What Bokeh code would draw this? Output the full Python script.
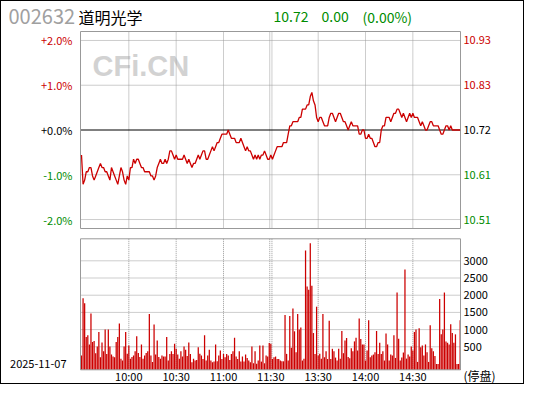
from bokeh.plotting import figure
from bokeh.models import Range1d, ColumnDataSource
from bokeh.layouts import column
from bokeh.core.properties import value
from bokeh.embed import file_html
from bokeh.resources import INLINE

# ---------------- data ----------------
stock_code = "002632"
stock_name = "道明光学"
base_price = 10.72
last_text = ["10.72", "0.00", "(0.00%)"]
trade_date = "2025-11-07"
status_text = "(停盘)"

price = [
    10.66, 10.59, 10.60, 10.62, 10.62, 10.63, 10.63, 10.61, 10.60, 10.61,
    10.62, 10.63, 10.64, 10.63, 10.63, 10.62, 10.62, 10.61, 10.60, 10.63,
    10.62, 10.61, 10.60, 10.59, 10.61, 10.63, 10.62, 10.60, 10.59, 10.61,
    10.60, 10.63, 10.63, 10.65, 10.64, 10.65, 10.65, 10.64, 10.63, 10.63,
    10.62, 10.62, 10.62, 10.62, 10.61, 10.61, 10.60, 10.61, 10.63, 10.64,
    10.65, 10.64, 10.64, 10.65, 10.64, 10.65, 10.67, 10.67, 10.66, 10.65,
    10.66, 10.65, 10.65, 10.65, 10.65, 10.66, 10.65, 10.64, 10.65, 10.64,
    10.63, 10.64, 10.64, 10.65, 10.66, 10.65, 10.66, 10.67, 10.67, 10.65,
    10.65, 10.66, 10.67, 10.68, 10.67, 10.68, 10.69, 10.69, 10.70, 10.71,
    10.71, 10.71, 10.71, 10.72, 10.71, 10.70, 10.70, 10.70, 10.69, 10.69,
    10.69, 10.70, 10.69, 10.68, 10.67, 10.68, 10.67, 10.67, 10.66, 10.65,
    10.66, 10.65, 10.66, 10.65, 10.66, 10.66, 10.67, 10.66, 10.65, 10.65,
    10.66,
    10.65, 10.66, 10.67, 10.68, 10.68, 10.68, 10.68, 10.69, 10.69, 10.69,
    10.71, 10.73, 10.73, 10.74, 10.74, 10.74, 10.74, 10.75, 10.75, 10.77,
    10.77, 10.77, 10.78, 10.78, 10.80, 10.81, 10.79, 10.78, 10.75, 10.74,
    10.75, 10.75, 10.74, 10.73, 10.73, 10.73, 10.75, 10.76, 10.76, 10.75,
    10.74, 10.75, 10.76, 10.76, 10.75, 10.74, 10.74, 10.73, 10.72, 10.73,
    10.74, 10.73, 10.73, 10.73, 10.73, 10.71, 10.71, 10.72, 10.72, 10.70,
    10.70, 10.71, 10.70, 10.70, 10.69, 10.68, 10.68, 10.69, 10.69, 10.72,
    10.73, 10.73, 10.75, 10.75, 10.75, 10.74, 10.75, 10.76, 10.76, 10.77,
    10.77, 10.76, 10.75, 10.76, 10.75, 10.74, 10.75, 10.76, 10.75, 10.76,
    10.75, 10.75, 10.75, 10.74, 10.73, 10.74, 10.73, 10.72, 10.72, 10.73,
    10.74, 10.74, 10.73, 10.73, 10.73, 10.73, 10.72, 10.71, 10.71, 10.72,
    10.73, 10.73, 10.72, 10.73, 10.72, 10.72, 10.72, 10.72, 10.72, 10.72,
]

volume = [
    245, 1911, 1764, 784, 833, 568, 1470, 637, 666, 313,
    510, 931, 196, 627, 372, 1000, 294, 1000, 510, 274,
    216, 196, 637, 784, 1176, 150, 100, 510, 931, 300,
    539, 150, 200, 250, 370, 804, 320, 200, 568, 150,
    250, 320, 370, 1450, 250, 60, 1147, 274, 686, 200,
    150, 250, 216, 216, 784, 100, 294, 372, 294, 588,
    441, 274, 150, 372, 216, 510, 411, 235, 627, 294,
    50, 150, 100, 118, 490, 300, 245, 147, 833, 98,
    245, 411, 98, 50, 69, 568, 78, 245, 392, 147,
    294, 196, 294, 245, 118, 294, 372, 764, 216, 147,
    372, 69, 216, 69, 274, 176, 98, 50, 510, 20,
    372, 10, 98, 539, 69, 539, 20, 245, 216, 608,
    588,
    147, 196, 216, 147, 147, 98, 78, 78, 1421, 294,
    98, 1392, 470, 1617, 950, 343, 1450, 1000, 1058, 100,
    150, 3300, 2254, 2156, 3508, 2274, 900, 294, 1666, 245,
    300, 150, 1450, 196, 372, 147, 1254, 147, 441, 372,
    186, 100, 441, 150, 960, 314, 686, 755, 200, 167,
    461, 372, 657, 764, 392, 1323, 725, 568, 568, 100,
    392, 1274, 196, 245, 274, 343, 960, 294, 617, 294,
    372, 100, 890, 568, 98, 274, 245, 833, 176, 2078,
    735, 100, 186, 333, 2744, 157, 274, 216, 510, 392,
    931, 1000, 60, 1039, 490, 539, 245, 568, 343, 60,
    1127, 461, 372, 235, 0, 0, 1891, 862, 1000, 2078,
    657, 617, 568, 1157, 902, 617, 862, 0, 0, 1274,
]

minute_idx = list(range(len(price)))

time_ticks = [30, 60, 90, 120, 150, 180, 210]
time_labels = ["10:00", "10:30", "11:00", "11:30", "13:30", "14:00", "14:30"]
grid_minutes = [30, 60, 90, 119.3, 120.7, 150, 180, 210]
pct_levels = [2, 1, 0, -1, -2]
pct_labels = ["+2.0%", "+1.0%", "+0.0%", "-1.0%", "-2.0%"]
price_labels = ["10.93", "10.83", "10.72", "10.61", "10.51"]
vol_ticks = [500, 1000, 1500, 2000, 2500, 3000]
vol_labels = ["500", "1000", "1500", "2000", "2500", "3000"]

# ---------------- styles / geometry ----------------
RED = "#cc0000"
GREEN = "#008c00"
GRID = "#9a9a9a"
FRAME = "#999999"
FONT = "Noto Sans CJK SC"

X0, X1 = -0.63, 240.2                         # minute range of the panels
PXMIN = 380.0 / (X1 - X0)                     # px per minute
Y1LO, Y1HI = base_price * 0.978, base_price * 1.022
V_LO, V_HI = -169, 3640


def xd(rx):            # page x -> minute units
    return X0 + (rx - 80) / PXMIN


def yd1(ry):           # page y -> price units
    return Y1HI - (ry - 31) * (Y1HI - Y1LO) / 197.0


def yd2(ry):           # page y -> volume units
    return V_HI - (ry - 238.3) * (V_HI - V_LO) / 131.0


def base_fig(h, y0, y1):
    f = figure(width=522, height=h, output_backend="svg", toolbar_location=None,
               x_range=Range1d(xd(1), xd(523)), y_range=Range1d(y0, y1),
               min_border=0, x_axis_location=None, y_axis_location=None)
    f.outline_line_color = None
    f.xgrid.visible = False
    f.ygrid.visible = False
    return f


# ---------------- price panel ----------------
p1 = base_fig(233, yd1(234), yd1(1))

p1.text(x=[xd(92)], y=[yd1(65)], text=["CFi.CN"], text_font=value("Liberation Sans"),
        text_font_style="bold", text_font_size="29px", text_color="#d2d2d2",
        text_baseline="middle")

pct_prices = [base_price * (1 + k / 100) for k in pct_levels]
grid_prices = [v for k, v in zip(pct_levels, pct_prices) if k != 0]
p1.segment(x0=grid_minutes, y0=Y1LO, x1=grid_minutes, y1=Y1HI,
           line_color=GRID, line_dash="1 1", line_width=1)
p1.segment(x0=X0, y0=grid_prices, x1=X1, y1=grid_prices,
           line_color=GRID, line_dash="1 1", line_width=1)
p1.segment(x0=[X0], y0=[base_price], x1=[X1], y1=[base_price], line_color="black", line_width=1)
p1.quad(left=[X0], right=[X1], bottom=[Y1LO], top=[Y1HI], fill_color=None, line_color=FRAME)

p1.line(minute_idx, price, line_color=RED, line_width=1.3)

label_colors = [RED if k > 0 else (GREEN if k < 0 else "black") for k in pct_levels]
lsrc = ColumnDataSource(dict(y=pct_prices, l=pct_labels, r=price_labels, c=label_colors))
p1.text(x=xd(72), y="y", text="l", text_color="c", source=lsrc, text_align="right",
        text_baseline="middle", text_font=value(FONT), text_font_size="11px")
p1.text(x=xd(463), y="y", text="r", text_color="c", source=lsrc, text_align="left",
        text_baseline="middle", text_font=value(FONT), text_font_size="11px")

p1.text(x=[xd(8)], y=[yd1(16)], text=[stock_code], text_baseline="middle",
        text_font=value(FONT), text_font_size="20px", text_color="#a0a0a0")
p1.text(x=[xd(78)], y=[yd1(16)], text=[stock_name], text_baseline="middle",
        text_font=value(FONT), text_font_size="16px", text_color="black")
p1.text(x=[xd(273), xd(321), xd(362)], y=[yd1(16)] * 3, text=last_text,
        text_baseline="middle", text_font=value(FONT), text_font_size="14px",
        text_color=GREEN)

# ---------------- volume panel ----------------
p2 = base_fig(149, yd2(383), yd2(234))
p2.x_range = p1.x_range

p2.segment(x0=grid_minutes, y0=V_LO, x1=grid_minutes, y1=V_HI,
           line_color=GRID, line_dash="1 1", line_width=1)
p2.segment(x0=X0, y0=vol_ticks, x1=X1, y1=vol_ticks,
           line_color=GRID, line_dash="1 1", line_width=1)

p2.vbar(x=minute_idx, top=volume, bottom=V_LO, width=0.8, fill_color=RED, line_color=None)
p2.quad(left=[X0], right=[X1], bottom=[V_LO], top=[V_HI], fill_color=None, line_color=FRAME)

p2.text(x=xd(463), y=vol_ticks, text=vol_labels, text_align="left", text_baseline="middle",
        text_font=value(FONT), text_font_size="11px", text_color="black")
p2.text(x=time_ticks, y=yd2(375), text=time_labels, text_align="center",
        text_baseline="middle", text_font=value(FONT), text_font_size="11px",
        text_color="black")
p2.text(x=[xd(66)], y=[yd2(363)], text=[trade_date], text_align="right",
        text_baseline="middle", text_font=value(FONT), text_font_size="11px",
        text_color="black")
p2.text(x=[xd(463)], y=[yd2(375)], text=[status_text], text_align="left",
        text_baseline="middle", text_font=value(FONT), text_font_size="12px",
        text_color="black")

layout = column(p1, p2, styles={"border": "1px solid black"})
open("out.html", "w").write(file_html(layout, INLINE))
